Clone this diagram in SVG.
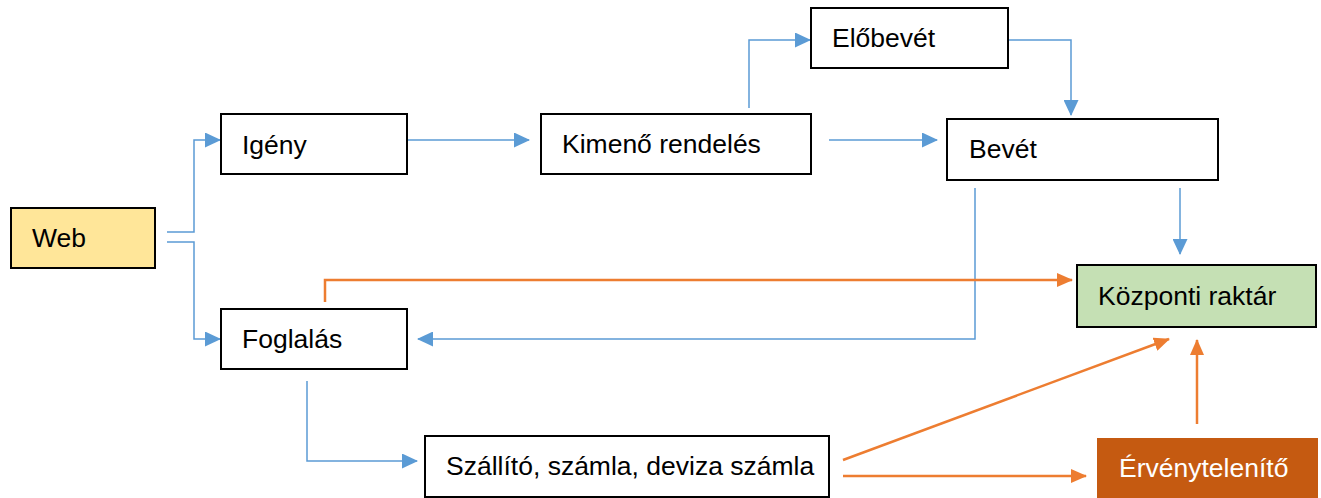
<svg xmlns="http://www.w3.org/2000/svg" width="1321" height="498" viewBox="0 0 1321 498">
<style>
.box{fill:#ffffff;stroke:#000000;stroke-width:2}
.lbl{font-family:"Liberation Sans",Arial,sans-serif;font-size:26.5px;fill:#000000}
.blue{fill:none;stroke:#5B9BD5;stroke-width:1.5}
.orange{fill:none;stroke:#ED7D31;stroke-width:2.5}
</style>
<defs>
<marker id="ab" viewBox="0 0 16 15" refX="15" refY="7.5" markerWidth="16" markerHeight="15" markerUnits="userSpaceOnUse" orient="auto">
<path d="M0,0 L16,7.5 L0,15 Z" fill="#5B9BD5"/>
</marker>
<marker id="ao" viewBox="0 0 16 14" refX="15" refY="7" markerWidth="16" markerHeight="14" markerUnits="userSpaceOnUse" orient="auto">
<path d="M0,0 L16,7 L0,14 Z" fill="#ED7D31"/>
</marker>
</defs>
<rect width="1321" height="498" fill="#ffffff"/>
<g id="connectors">
<path class="blue" d="M167,232 H194 V140 H220" marker-end="url(#ab)"/>
<path class="blue" d="M167,242 H194 V339 H220" marker-end="url(#ab)"/>
<path class="blue" d="M407,140 H529" marker-end="url(#ab)"/>
<path class="blue" d="M829,140 H937" marker-end="url(#ab)"/>
<path class="blue" d="M749,108 V40 H810" marker-end="url(#ab)"/>
<path class="blue" d="M1008,40 H1071 V115" marker-end="url(#ab)"/>
<path class="blue" d="M1180,188 V254" marker-end="url(#ab)"/>
<path class="blue" d="M975,188 V339 H418" marker-end="url(#ab)"/>
<path class="blue" d="M307,381 V461 H417" marker-end="url(#ab)"/>
<path class="orange" d="M325,302 V280 H1072" marker-end="url(#ao)"/>
<path class="orange" d="M843,460 L1169,339" marker-end="url(#ao)"/>
<path class="orange" d="M843,476 H1086" marker-end="url(#ao)"/>
<path class="orange" d="M1197,424 V340" marker-end="url(#ao)"/>
</g>
<g id="web">
<rect class="box" x="11" y="208" width="144" height="60" style="fill:#FFE699"/>
<text class="lbl" x="32" y="247">Web</text>
</g>
<g id="igeny">
<rect class="box" x="221" y="114" width="186" height="60"/>
<text class="lbl" x="242" y="154">Igény</text>
</g>
<g id="kimeno">
<rect class="box" x="541" y="114" width="270" height="60"/>
<text class="lbl" x="562" y="153">Kimenő rendelés</text>
</g>
<g id="elobevet">
<rect class="box" x="811" y="8" width="197" height="60"/>
<text class="lbl" x="832" y="47">Előbevét</text>
</g>
<g id="bevet">
<rect class="box" x="947" y="119" width="271" height="61"/>
<text class="lbl" x="969" y="158">Bevét</text>
</g>
<g id="kozponti">
<rect class="box" x="1077" y="265" width="239" height="62" style="fill:#C5E0B4"/>
<text class="lbl" x="1098" y="305">Központi raktár</text>
</g>
<g id="foglalas">
<rect class="box" x="221" y="309" width="186" height="60"/>
<text class="lbl" x="242" y="348">Foglalás</text>
</g>
<g id="szallito">
<rect class="box" x="425" y="436" width="404" height="61"/>
<text class="lbl" x="446" y="475">Szállító, számla, deviza számla</text>
</g>
<g id="ervenytelenito">
<rect x="1097" y="438" width="221" height="60" fill="#C55A11"/>
<text class="lbl" x="1119" y="477" style="fill:#ffffff">Érvénytelenítő</text>
</g>
</svg>
